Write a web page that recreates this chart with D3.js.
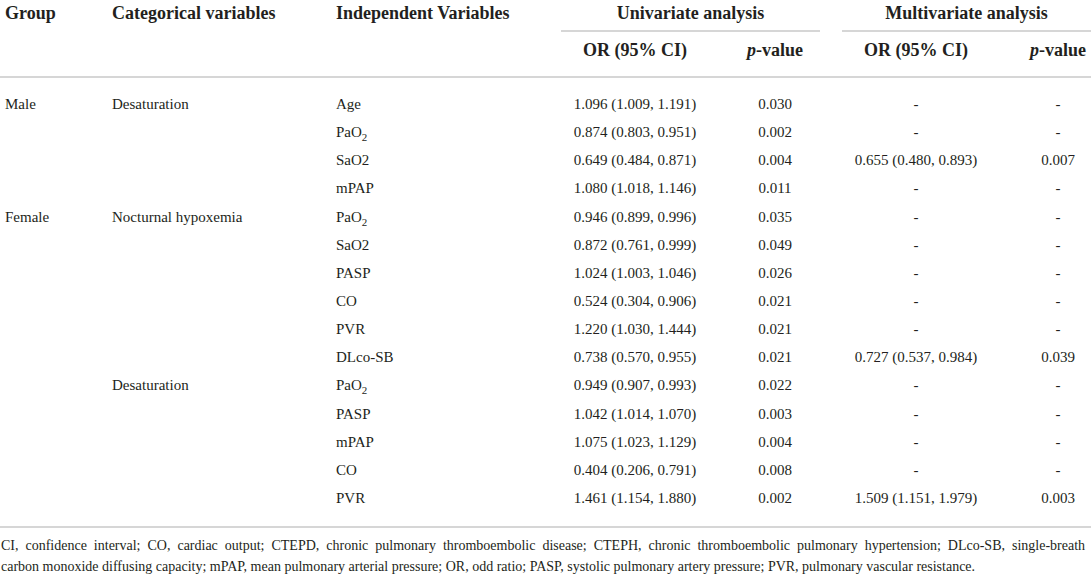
<!DOCTYPE html>
<html>
<head>
<meta charset="utf-8">
<script src="https://cdn.jsdelivr.net/npm/d3@7/dist/d3.min.js"></script>
<style>
  html, body { margin: 0; padding: 0; background: #fff; }
  svg text { font-family: "Liberation Serif", "DejaVu Serif", serif; fill: #231f20; }
  .head { font-weight: bold; font-size: 18px; }
  .cell { font-size: 15px; }
  .note { font-size: 15px; }
</style>
</head>
<body>
<svg id="tbl" width="1091" height="578"></svg>
<script>
// table content, row by row
const groupCol = ["Male", "", "", "", "Female", "", "", "", "", "", "", "", "", "", ""];
const catCol = ["Desaturation", "", "", "", "Nocturnal hypoxemia", "", "", "", "", "", "Desaturation", "", "", "", ""];
const indVars = ["Age", "PaO_2", "SaO2", "mPAP", "PaO_2", "SaO2", "PASP", "CO", "PVR", "DLco-SB", "PaO_2", "PASP", "mPAP", "CO", "PVR"];
const uniOR = ["1.096 (1.009, 1.191)", "0.874 (0.803, 0.951)", "0.649 (0.484, 0.871)", "1.080 (1.018, 1.146)",
    "0.946 (0.899, 0.996)", "0.872 (0.761, 0.999)", "1.024 (1.003, 1.046)", "0.524 (0.304, 0.906)",
    "1.220 (1.030, 1.444)", "0.738 (0.570, 0.955)", "0.949 (0.907, 0.993)", "1.042 (1.014, 1.070)",
    "1.075 (1.023, 1.129)", "0.404 (0.206, 0.791)", "1.461 (1.154, 1.880)"];
const uniP = ["0.030", "0.002", "0.004", "0.011", "0.035", "0.049", "0.026", "0.021", "0.021", "0.021", "0.022", "0.003", "0.004", "0.008", "0.002"];
const multiOR = ["-", "-", "0.655 (0.480, 0.893)", "-", "-", "-", "-", "-", "-", "0.727 (0.537, 0.984)", "-", "-", "-", "-", "1.509 (1.151, 1.979)"];
const multiP = ["-", "-", "0.007", "-", "-", "-", "-", "-", "-", "0.039", "-", "-", "-", "-", "0.003"];

const topHeaders = ["Group", "Categorical variables", "Independent Variables"];
const spanHeaders = ["Univariate analysis", "Multivariate analysis"];
const subHeaders = ["OR (95% CI)", "p-value", "OR (95% CI)", "p-value"];
const footnote = [
    "CI, confidence interval; CO, cardiac output; CTEPD, chronic pulmonary thromboembolic disease; CTEPH, chronic thromboembolic pulmonary hypertension; DLco-SB, single-breath",
    "carbon monoxide diffusing capacity; mPAP, mean pulmonary arterial pressure; OR, odd ratio; PASP, systolic pulmonary artery pressure; PVR, pulmonary vascular resistance."
];

const W = 1091;
const lineColor = "#d6d6d6";
const svg = d3.select("#tbl");

const colKeys = ["group", "cat", "ind", "uniOR", "uniP", "multiOR", "multiP"];
const xCol = d3.scaleOrdinal().domain(colKeys).range([5, 112, 336, 635, 775, 916, 1058]);
const anchor = d3.scaleOrdinal().domain(colKeys).range(["start", "start", "start", "middle", "middle", "middle", "middle"]);
const yRow = d3.scalePoint().domain(d3.range(indVars.length)).range([104, 498]);

// span underline extents
const spans = [[561, 820], [842, W]];

// header row 1
svg.append("g").selectAll("text")
    .data(topHeaders)
    .enter().append("text")
    .attr("class", "head")
    .attr("x", (d, i) => xCol(colKeys[i]))
    .attr("y", 19)
    .text(d => d);

svg.append("g").selectAll("text")
    .data(spanHeaders)
    .enter().append("text")
    .attr("class", "head")
    .attr("text-anchor", "middle")
    .attr("x", (d, i) => (spans[i][0] + spans[i][1]) / 2)
    .attr("y", 19)
    .text(d => d);

svg.append("g").selectAll("line")
    .data(spans)
    .enter().append("line")
    .attr("x1", d => d[0]).attr("x2", d => d[1])
    .attr("y1", 31).attr("y2", 31)
    .attr("stroke", lineColor).attr("stroke-width", 2);

// header row 2
let sub = svg.append("g").selectAll("text")
    .data(subHeaders)
    .enter().append("text")
    .attr("class", "head")
    .attr("text-anchor", "middle")
    .attr("x", (d, i) => xCol(colKeys[i + 3]))
    .attr("y", 56);
sub.each(function (d) {
    let t = d3.select(this);
    if (d.startsWith("p-")) {
        t.append("tspan").style("font-style", "italic").text("p");
        t.append("tspan").text(d.slice(1));
    } else t.text(d);
});

// rules
svg.append("g").selectAll("line")
    .data([77, 527])
    .enter().append("line")
    .attr("x1", 0).attr("x2", W)
    .attr("y1", d => d).attr("y2", d => d)
    .attr("stroke", lineColor).attr("stroke-width", 2);

// body cells
const columns = [groupCol, catCol, indVars, uniOR, uniP, multiOR, multiP];
columns.forEach((col, c) => {
    let key = colKeys[c];
    svg.append("g").selectAll("text")
        .data(col)
        .enter().append("text")
        .attr("class", "cell")
        .attr("text-anchor", anchor(key))
        .attr("x", xCol(key))
        .attr("y", (d, i) => yRow(i) + 5)
        .each(function (d) {
            let t = d3.select(this);
            if (d.includes("_")) {
                let [base, subs] = d.split("_");
                t.append("tspan").text(base);
                t.append("tspan").attr("dy", 4).style("font-size", "11px").text(subs);
            } else t.text(d);
        });
});

// footnote: condensed type, first line justified to the full width
let note = svg.append("g").attr("class", "notes");
let noteLines = note.selectAll("text")
    .data(footnote)
    .enter().append("text")
    .attr("class", "note")
    .attr("x", 0)
    .attr("y", (d, i) => 550 + i * 21)
    .text(d => d);
let w1 = noteLines.nodes()[0].getComputedTextLength();
let w2 = noteLines.nodes()[1].getComputedTextLength();
let sx = 975 / w2;
let gaps = footnote[0].split(" ").length - 1;
let extra = Math.max(0, (1085 / sx - w1) / gaps);
noteLines.filter((d, i) => i == 0).attr("word-spacing", extra);
note.attr("transform", `translate(1,0) scale(${sx},1)`);
</script>
</body>
</html>
